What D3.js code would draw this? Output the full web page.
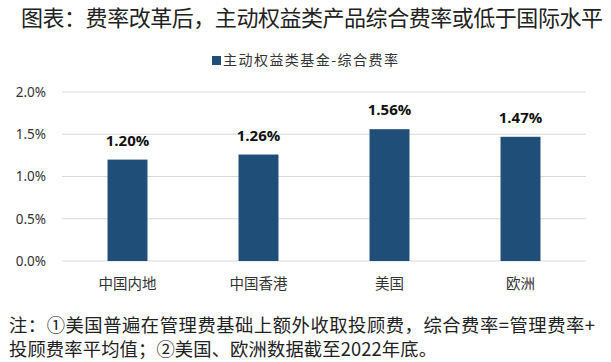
<!DOCTYPE html>
<html>
<head>
<meta charset="utf-8">
<script src="https://cdn.jsdelivr.net/npm/d3@7"></script>
<style>
  body { margin: 0; background: #fff; }
  text { font-family: "Noto Sans CJK SC", "Noto Sans", sans-serif; }
</style>
</head>
<body>
<div id="container"></div>
<script>
/* CONSTANTS AND GLOBALS */
const width = 611,
  height = 362,
  margin = { top: 92, bottom: 101, left: 62, right: 25 };

const regions = ["中国内地", "中国香港", "美国", "欧洲"];
const feeRates = [1.20, 1.26, 1.56, 1.47];
const yTicks = [0, 0.5, 1.0, 1.5, 2.0];
const seriesName = "主动权益类基金-综合费率";
const title = "图表：费率改革后，主动权益类产品综合费率或低于国际水平";
const notes = [
  "注：①美国普遍在管理费基础上额外收取投顾费，综合费率=管理费率+",
  "投顾费率平均值；②美国、欧洲数据截至2022年底。"
];
const barColor = "#1f4e79";

const svg = d3.select("#container")
  .append("svg")
  .attr("width", width)
  .attr("height", height);

// title
svg.append("text")
  .attr("x", 21)
  .attr("y", 26)
  .attr("font-size", 22)
  .attr("textLength", 582)
  .attr("lengthAdjust", "spacing")
  .attr("fill", "#222")
  .text(title);

// legend
svg.append("rect")
  .attr("x", 212).attr("y", 56)
  .attr("width", 9).attr("height", 9)
  .attr("fill", barColor);
svg.append("text")
  .attr("x", 223).attr("y", 65)
  .attr("font-size", 14)
  .attr("textLength", 175)
  .attr("lengthAdjust", "spacing")
  .attr("fill", "#333")
  .text(seriesName);

// scales
const xScale = d3.scaleBand()
  .domain(regions)
  .range([margin.left, width - margin.right])
  .paddingInner(0.695)
  .paddingOuter(0.3475);

const yScale = d3.scaleLinear()
  .domain([0, 2.0])
  .range([height - margin.bottom, margin.top]);

// gridlines
svg.append("g")
  .selectAll("line")
  .data(yTicks)
  .join("line")
  .attr("x1", margin.left)
  .attr("x2", width - margin.right)
  .attr("y1", d => yScale(d))
  .attr("y2", d => yScale(d))
  .attr("stroke", "#d9d9d9")
  .attr("stroke-width", 1);

// y axis
const yAxis = d3.axisLeft(yScale)
  .tickValues(yTicks)
  .tickFormat(d => d.toFixed(1) + "%")
  .tickSize(0)
  .tickPadding(16);

const yAxisGroup = svg.append("g")
  .attr("transform", `translate(${margin.left}, 0)`)
  .call(yAxis);
yAxisGroup.select(".domain").remove();
yAxisGroup.selectAll("text")
  .attr("font-size", 13.5)
  .attr("fill", "#333")
  .style("font-family", "\"Noto Sans\", sans-serif");

// x axis
const xAxis = d3.axisBottom(xScale).tickSize(0).tickPadding(18);
const xAxisGroup = svg.append("g")
  .attr("transform", `translate(0, ${height - margin.bottom})`)
  .call(xAxis);
xAxisGroup.select(".domain").remove();
xAxisGroup.selectAll("text")
  .attr("font-size", 14.5)
  .attr("fill", "#333");

// bars
const data = regions.map((r, i) => ({ region: r, value: feeRates[i] }));

svg.selectAll("rect.bar")
  .data(data)
  .join("rect")
  .attr("class", "bar")
  .attr("x", d => xScale(d.region))
  .attr("width", xScale.bandwidth())
  .attr("y", d => yScale(d.value))
  .attr("height", d => yScale(0) - yScale(d.value))
  .attr("fill", barColor);

// value labels
svg.selectAll("text.val")
  .data(data)
  .join("text")
  .attr("class", "val")
  .attr("x", d => xScale(d.region) + xScale.bandwidth() / 2)
  .attr("y", d => yScale(d.value) - 14)
  .attr("text-anchor", "middle")
  .attr("font-size", 15)
  .attr("font-weight", "bold")
  .attr("fill", "#111")
  .style("font-family", "\"Open Sans\", sans-serif")
  .text(d => d.value.toFixed(2) + "%");

// notes
svg.selectAll("text.note")
  .data(notes)
  .join("text")
  .attr("class", "note")
  .attr("x", 9)
  .attr("y", (d, i) => 332 + i * 24)
  .attr("font-size", 18.3)
  .attr("fill", "#222")
  .attr("textLength", (d, i) => i === 0 ? 586 : 428)
  .attr("lengthAdjust", "spacing")
  .text(d => d);
</script>
</body>
</html>
